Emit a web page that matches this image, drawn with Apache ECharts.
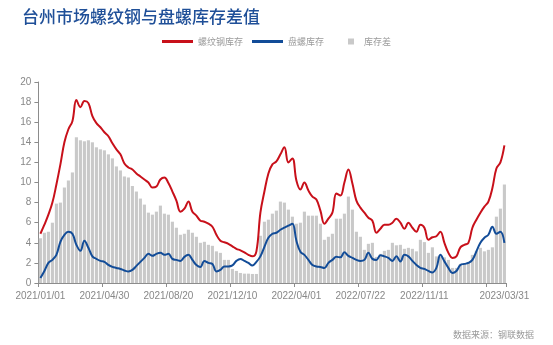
<!DOCTYPE html>
<html>
<head>
<meta charset="utf-8">
<script src="https://cdn.jsdelivr.net/npm/echarts/dist/echarts.min.js"></script>
<style>
  html, body { margin: 0; padding: 0; background: #ffffff; }
  #chart { width: 553px; height: 345px; }
</style>
</head>
<body>
<div id="chart"></div>
<script>
// Weekly observation dates (Fridays); the Spring Festival week of 2021 has no record.
const firstDate = '2021/01/01';
const lastDate = '2023/03/31';
const skippedDates = ['2021/02/12'];

// Dates that carry an axis label
const tickLabels = ['2021/01/01', '2021/04/30', '2021/08/20', '2021/12/10',
  '2022/04/01', '2022/07/22', '2022/11/11', '2023/03/31'];

// 螺纹钢库存 (万吨)
const rebarStock = [
  4.9, 5.8, 6.8, 8.0, 9.8, 11.8, 14.0, 15.3, 16.1, 18.2,
  17.5, 18.1, 17.9, 16.6, 15.9, 15.5, 15.0, 14.6, 13.9, 13.3,
  12.8, 11.9, 11.5, 11.3, 10.9, 10.6, 10.3, 10.0, 9.5, 9.6,
  10.3, 10.5, 9.95, 9.1, 8.2, 7.1, 7.4, 8.1, 7.1, 6.7,
  6.2, 6.1, 5.9, 5.6, 4.8, 4.2, 4.05, 3.9, 3.65, 3.4,
  3.25, 3.05, 2.8, 2.65, 3.15, 7.0, 9.1, 10.9, 11.8, 12.1,
  12.8, 13.5, 12.0, 12.4, 10.2, 9.3, 10.0, 9.2, 8.6, 8.3,
  7.2, 5.9, 6.4, 7.0, 8.9, 8.7, 10.0, 11.3, 9.9, 8.2,
  7.5, 7.0, 6.5, 6.2, 5.0, 5.4, 5.8, 5.8, 6.0, 6.4,
  6.0, 5.4, 6.0, 5.5, 5.1, 5.8, 5.5, 4.3, 4.55, 4.65,
  5.1, 4.0, 3.0, 2.5, 2.65, 3.55, 3.8, 4.0, 5.5, 6.3,
  7.0, 7.6, 8.1, 9.45, 11.4, 12.0, 13.7
];

// 盘螺库存 (万吨)
const wireStock = [
  0.5, 1.2, 2.0, 2.3, 2.8, 4.1, 4.8, 5.1, 4.9, 3.8,
  3.2, 4.2, 3.5, 2.65, 2.4, 2.2, 2.1, 1.8, 1.6, 1.5,
  1.4, 1.25, 1.15, 1.3, 1.7, 2.1, 2.5, 2.9, 2.7, 2.9,
  3.0, 2.8, 2.9, 2.4, 2.3, 2.2, 2.6, 2.8, 2.3, 1.8,
  1.6, 2.2, 2.0, 1.9, 1.15, 1.3, 1.65, 1.65, 1.75, 2.2,
  2.4, 2.2, 2.0, 1.75, 2.1, 2.65, 3.6, 4.5, 4.9, 5.0,
  5.3, 5.5, 5.7, 5.9, 4.2, 3.1, 2.8, 2.3, 1.8, 1.65,
  1.6, 1.5, 2.0, 2.3, 2.6, 2.55, 3.05, 2.7, 2.5, 2.3,
  2.2, 2.3, 3.0, 2.4, 2.3, 2.75, 2.65, 2.5, 2.2, 2.65,
  2.15, 2.8, 2.65, 2.2, 1.8, 1.5, 1.4, 1.2, 1.05, 1.5,
  2.8, 2.15, 1.5, 1.0, 1.2, 1.8, 1.9, 2.0, 2.3, 3.15,
  4.0, 4.5, 4.8, 5.6, 4.9, 5.1, 4.0
];

// 库存差 (万吨)
const stockGap = [
  4.45, 5.0, 5.1, 6.0, 7.9, 8.0, 9.5, 10.2, 11.0, 14.5,
  14.2, 14.1, 14.2, 14.0, 13.5, 13.3, 13.2, 12.8, 12.4, 11.6,
  11.2, 10.6, 10.5, 9.65, 9.1, 8.4, 7.8, 7.0, 6.8, 7.1,
  7.7, 6.9, 6.8, 6.1, 5.5, 4.8, 4.9, 5.3, 5.0, 4.6,
  4.0, 4.1, 3.8, 3.7, 3.15, 3.0, 2.3, 2.3, 1.4, 1.2,
  1.0, 0.93, 0.93, 0.9, 0.9, 4.7, 6.1, 6.3, 6.9, 7.2,
  8.1, 8.0, 7.3, 6.6, 5.9, 6.0, 7.1, 6.7, 6.7, 6.7,
  5.9, 4.3, 4.6, 4.9, 6.4, 6.4, 6.9, 8.6, 7.3, 5.1,
  4.6, 3.3, 3.9, 4.0, 2.6, 2.9, 3.2, 3.3, 4.0, 3.75,
  3.8, 3.4, 3.5, 3.4, 3.15, 4.3, 4.07, 3.0, 3.55, 2.65,
  2.65, 2.55, 2.3, 1.5, 1.5, 1.9, 1.9, 2.1, 2.8, 3.2,
  3.5, 3.15, 3.3, 3.55, 6.6, 7.4, 9.8
];

// Build the weekly category list
function fmt(d) {
  const p = n => String(n).padStart(2, '0');
  return d.getUTCFullYear() + '/' + p(d.getUTCMonth() + 1) + '/' + p(d.getUTCDate());
}
function parse(s) {
  const [y, m, d] = s.split('/').map(Number);
  return new Date(Date.UTC(y, m - 1, d));
}
const categories = [];
for (let d = parse(firstDate); d <= parse(lastDate); d = new Date(d.getTime() + 7 * 86400000)) {
  const s = fmt(d);
  if (!skippedDates.includes(s)) categories.push(s);
}

const numFont = '"Liberation Sans", Arial, "Noto Sans CJK SC", sans-serif';
const cjkFont = '"Noto Sans CJK SC", sans-serif';
const axisGray = '#8c8c8c';

const chart = echarts.init(document.getElementById('chart'), null, { renderer: 'canvas' });
chart.setOption({
  animation: false,
  backgroundColor: '#ffffff',
  title: [
    {
      text: '台州市场螺纹钢与盘螺库存差值',
      left: 17, top: 3,
      textStyle: { color: '#1f4f98', fontSize: 17, fontWeight: 500, fontFamily: cjkFont }
    },
    {
      text: '数据来源：钢联数据',
      right: 14, top: 325,
      textStyle: { color: '#9a9a9a', fontSize: 9, fontWeight: 'normal', fontFamily: cjkFont }
    }
  ],
  legend: [
    {
      data: ['螺纹钢库存', '盘螺库存'],
      left: 162, top: 37, padding: 0,
      icon: 'rect', itemWidth: 31, itemHeight: 3, itemGap: 9,
      textStyle: { color: '#9a9a9a', fontSize: 9, fontFamily: cjkFont }
    },
    {
      data: ['库存差'],
      left: 348, top: 37, padding: 0,
      icon: 'rect', itemWidth: 6, itemHeight: 6,
      textStyle: { color: '#9a9a9a', fontSize: 9, fontFamily: cjkFont, padding: [0, 0, 0, 5] }
    }
  ],
  grid: { left: 38.4, right: 46.6, top: 82, bottom: 62, containLabel: false },
  xAxis: {
    type: 'category',
    data: categories,
    boundaryGap: true,
    axisLine: { show: true, lineStyle: { color: axisGray, width: 1 } },
    axisTick: {
      show: true, length: 4, lineStyle: { color: axisGray },
      interval: (i) => i % 16 === 0
    },
    axisLabel: {
      color: '#888888', fontSize: 10, fontFamily: numFont, margin: 8,
      interval: (i, v) => tickLabels.includes(v)
    },
    splitLine: { show: false }
  },
  yAxis: {
    type: 'value',
    min: 0, max: 20, interval: 2,
    axisLine: { show: true, lineStyle: { color: axisGray, width: 1 } },
    axisTick: { show: true, length: 4, lineStyle: { color: axisGray } },
    axisLabel: { color: '#888888', fontSize: 10, fontFamily: numFont, margin: 7 },
    splitLine: { show: false }
  },
  series: [
    {
      name: '库存差',
      type: 'bar',
      data: stockGap,
      barCategoryGap: '22%',
      itemStyle: { color: '#c9c9c9' },
      z: 1
    },
    {
      name: '螺纹钢库存',
      type: 'line',
      data: rebarStock,
      smooth: 0.4,
      showSymbol: false,
      symbol: 'none',
      color: '#c8101a',
      itemStyle: { color: '#c8101a' },
      lineStyle: { color: '#c8101a', width: 2 },
      z: 3
    },
    {
      name: '盘螺库存',
      type: 'line',
      data: wireStock,
      smooth: 0.4,
      showSymbol: false,
      symbol: 'none',
      color: '#124c98',
      itemStyle: { color: '#124c98' },
      lineStyle: { color: '#124c98', width: 2 },
      z: 3
    }
  ]
});
</script>
</body>
</html>
